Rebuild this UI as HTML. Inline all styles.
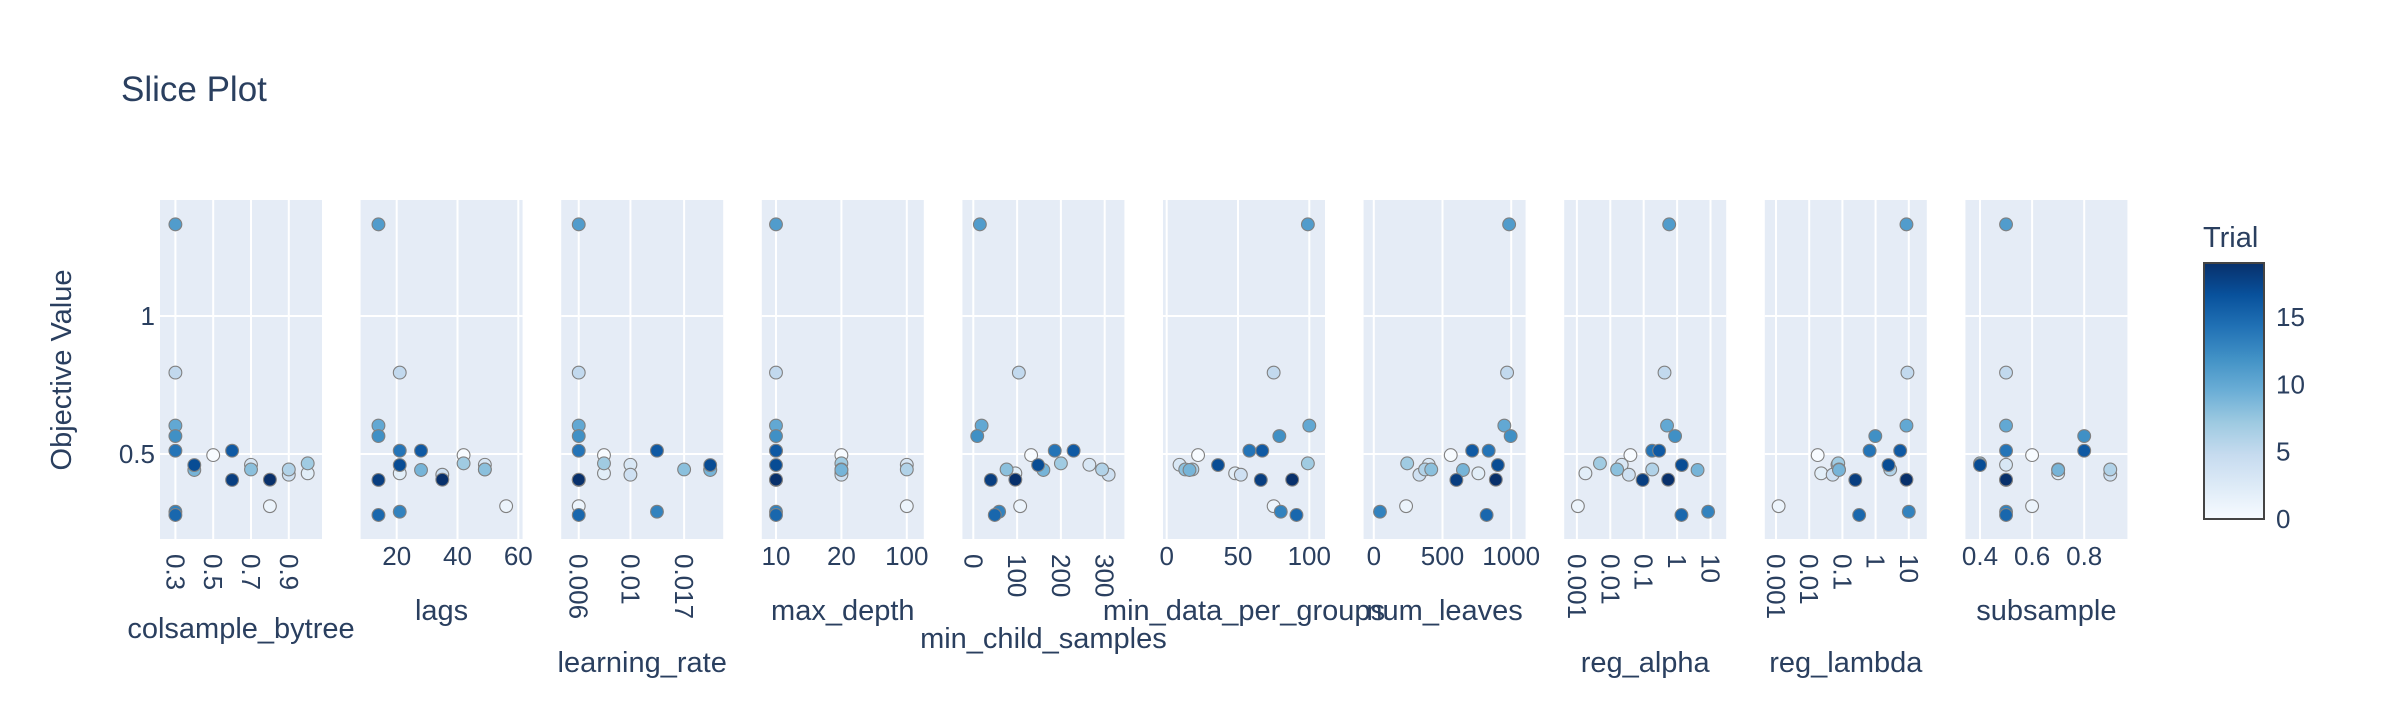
<!DOCTYPE html>
<html><head><meta charset="utf-8"><style>
html,body{margin:0;padding:0;background:#fff;}
svg text{font-family:"Liberation Sans",sans-serif;fill:#2a3f5f;}
</style></head><body>
<svg id="chart" width="2400" height="700" viewBox="0 0 2400 700" xmlns="http://www.w3.org/2000/svg">
<defs><linearGradient id="cbgrad" x1="0" y1="1" x2="0" y2="0">
<stop offset="0" stop-color="rgb(247,251,255)"/><stop offset="0.125" stop-color="rgb(222,235,247)"/><stop offset="0.25" stop-color="rgb(198,219,239)"/><stop offset="0.375" stop-color="rgb(158,202,225)"/><stop offset="0.5" stop-color="rgb(107,174,214)"/><stop offset="0.625" stop-color="rgb(66,146,198)"/><stop offset="0.75" stop-color="rgb(33,113,181)"/><stop offset="0.875" stop-color="rgb(8,81,156)"/><stop offset="1" stop-color="rgb(8,48,107)"/>
</linearGradient></defs>
<text x="121" y="101" font-size="35">Slice Plot</text>
<text transform="translate(71,370) rotate(-90)" text-anchor="middle" font-size="29">Objective Value</text>
<g id="panels"></g>
<g id="colorbar"></g>
</svg>
<script>
// trials 0..19
const trialNumbers = [0,1,2,3,4,5,6,7,8,9,10,11,12,13,14,15,16,17,18,19];
const objectiveValues = [0.496,0.311,0.43,0.461,0.425,0.795,0.444,0.466,0.444,0.442,0.603,1.332,0.565,0.291,0.512,0.279,0.512,0.46,0.406,0.407];
const colsampleBytree = [0.5,0.8,1.0,0.7,0.9,0.3,0.9,1.0,0.7,0.4,0.3,0.3,0.3,0.3,0.3,0.3,0.6,0.4,0.6,0.8];
const lags = [42,56,21,49,35,21,49,42,49,28,14,14,14,21,21,14,28,21,14,35];
const learningRate = [0.0077,0.006,0.0077,0.01,0.01,0.006,0.022,0.0077,0.017,0.022,0.006,0.006,0.006,0.013,0.006,0.006,0.013,0.022,0.006,0.006];
const maxDepth = ["20","100","20","100","20","10","100","20","20","20","10","10","10","10","10","10","10","10","10","10"];
const minChildSamples = [132,107,96,265,309,104,294,200,76,160,19,15,9,59,186,49,229,148,40,96];
const minDataPerGroups = [22,75,48,9,52,75,18,99,13,16,100,99,79,80,58,91,67,36,66,88];
const numLeaves = [560,235,761,400,332,970,373,243,418,649,950,985,996,45,836,821,716,903,601,888];
const regAlpha = [0.04,0.00107,0.0018,0.022,0.036,0.42,0.18,0.0049,0.016,4.1,0.5,0.58,0.87,8.5,0.18,1.35,0.29,1.38,0.093,0.54];
const regLambda = [0.018,0.0012,0.023,0.071,0.051,9.1,2.75,0.075,0.079,0.079,8.5,8.5,0.98,10,0.66,0.32,5.5,2.45,0.245,8.5];
const subsample = [0.6,0.6,0.7,0.5,0.9,0.5,0.9,0.4,0.7,0.7,0.5,0.5,0.8,0.5,0.5,0.5,0.8,0.4,0.5,0.5];
const yTickValues = [0.5,1];
const yTickLabels = ["0.5","1"];
const colorbarTicks = [0,5,10,15];

const NS="http://www.w3.org/2000/svg";
const Y0=200,Y1=539;
function yScale(v){return 454-(v-0.5)*276;}
function mk(tag,attrs,parent){const e=document.createElementNS(NS,tag);for(const k in attrs)e.setAttribute(k,attrs[k]);parent.appendChild(e);return e;}
const stops=[[247,251,255],[222,235,247],[198,219,239],[158,202,225],[107,174,214],[66,146,198],[33,113,181],[8,81,156],[8,48,107]];
function color(t){const f=t/19*8;const i=Math.min(7,Math.floor(f));const r=f-i;const a=stops[i],b=stops[i+1];
return `rgb(${Math.round(a[0]+(b[0]-a[0])*r)},${Math.round(a[1]+(b[1]-a[1])*r)},${Math.round(a[2]+(b[2]-a[2])*r)})`;}

const panels=[
 {name:"colsample_bytree",vals:colsampleBytree,type:"lin",ref:0.3,refPx:175.4,scale:189,ticks:[0.3,0.5,0.7,0.9],labels:["0.3","0.5","0.7","0.9"],rot:true,titleY:628},
 {name:"lags",vals:lags,type:"lin",ref:20,refPx:396.7,scale:3.04,ticks:[20,40,60],labels:["20","40","60"],rot:false,titleY:610},
 {name:"learning_rate",vals:learningRate,type:"log",ref:-2.2218,refPx:578.75,scale:233,ticks:[0.006,0.01,0.017],labels:["0.006","0.01","0.017"],rot:true,titleY:662},
 {name:"max_depth",vals:maxDepth,type:"cat",cats:["10","20","100"],ref:0,refPx:776,scale:65.4,ticks:["10","20","100"],labels:["10","20","100"],rot:false,titleY:610},
 {name:"min_child_samples",vals:minChildSamples,type:"lin",ref:0,refPx:973.3,scale:0.438,ticks:[0,100,200,300],labels:["0","100","200","300"],rot:true,titleY:638},
 {name:"min_data_per_groups",vals:minDataPerGroups,type:"lin",ref:0,refPx:1166.7,scale:1.426,ticks:[0,50,100],labels:["0","50","100"],rot:false,titleY:610},
 {name:"num_leaves",vals:numLeaves,type:"lin",ref:0,refPx:1373.8,scale:0.1374,ticks:[0,500,1000],labels:["0","500","1000"],rot:false,titleY:610},
 {name:"reg_alpha",vals:regAlpha,type:"log",ref:-3,refPx:1576.9,scale:33.4,ticks:[0.001,0.01,0.1,1,10],labels:["0.001","0.01","0.1","1","10"],rot:true,titleY:662},
 {name:"reg_lambda",vals:regLambda,type:"log",ref:-3,refPx:1776,scale:33.2,ticks:[0.001,0.01,0.1,1,10],labels:["0.001","0.01","0.1","1","10"],rot:true,titleY:662},
 {name:"subsample",vals:subsample,type:"lin",ref:0.4,refPx:1980,scale:260.5,ticks:[0.4,0.6,0.8],labels:["0.4","0.6","0.8"],rot:false,titleY:610}
];
const root=document.getElementById("panels");
panels.forEach((p,pi)=>{
 const x0=160+pi*200.6, x1=x0+162;
 function xs(v){let u;if(p.type==="log")u=Math.log10(v);else if(p.type==="cat")u=p.cats.indexOf(v);else u=v;return p.refPx+(u-p.ref)*p.scale;}
 const g=mk("g",{},root);
 
 
 const bg=mk("rect",{x:x0,y:Y0,width:162,height:Y1-Y0,fill:"#E5ECF6"},g);
 
 
 yTickValues.forEach((v,i)=>{
  const gl=mk("line",{x1:x0,x2:x1,y1:yScale(v),y2:yScale(v),stroke:"#fff","stroke-width":2},g);
  
  
  if(pi===0){const t=mk("text",{x:x0-5,y:yScale(v)+9,"text-anchor":"end","font-size":26},g);t.textContent=yTickLabels[i];
   
   }
 });
 p.ticks.forEach((tv,i)=>{
  const x=xs(tv);
  if(x>=x0-1&&x<=x1+1){const gl=mk("line",{x1:x,x2:x,y1:Y0,y2:Y1,stroke:"#fff","stroke-width":2},g);
   
   }
  let t;
  if(p.rot){t=mk("text",{transform:`translate(${x},554) rotate(90)`,"text-anchor":"start","dominant-baseline":"central","font-size":26},g);}
  else{t=mk("text",{x:x,y:565,"text-anchor":"middle","font-size":26},g);}
  t.textContent=p.labels[i];
  
  
 });
 const ttl=mk("text",{x:(x0+x1)/2,y:p.titleY+10,"text-anchor":"middle","font-size":29},g);
 ttl.textContent=p.name;
 
 
 trialNumbers.forEach((tr,i)=>{
  const c=mk("circle",{cx:xs(p.vals[i]),cy:yScale(objectiveValues[i]),r:6.4,fill:color(tr),stroke:"#808080","stroke-width":1.1},g);
  
  
 });
});
const cb=document.getElementById("colorbar");
const cbTop=263,cbBot=519,cbMax=19;
function cy(v){return cbBot-(v/cbMax)*(cbBot-cbTop);}
const ct=mk("text",{x:2203,y:247,"font-size":29},cb);ct.textContent="Trial";


const cr=mk("rect",{x:2204,y:cbTop,width:60,height:cbBot-cbTop,fill:"url(#cbgrad)",stroke:"#444","stroke-width":2},cb);


colorbarTicks.forEach(v=>{
 const t=mk("text",{x:2276,y:cy(v)+9,"font-size":26},cb);t.textContent=String(v);
 
 
});
</script>
</body></html>
